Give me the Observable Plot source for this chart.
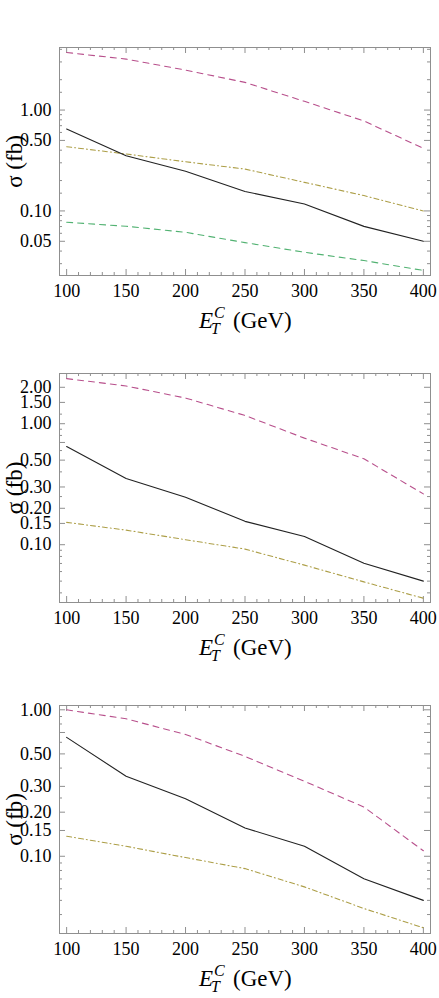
<!DOCTYPE html>
<html>
<head>
<meta charset="utf-8">
<script src="https://cdn.jsdelivr.net/npm/d3@7"></script>
<script src="https://cdn.jsdelivr.net/npm/@observablehq/plot@0.6"></script>
<style>
  html, body { margin: 0; padding: 0; background: #fff; }
  #charts svg { display: block; }
  #charts svg, #charts svg text { font-family: "Liberation Serif", "Times New Roman", "DejaVu Serif", serif !important; }
</style>
</head>
<body>
<div id="charts"></div>
<script>
// ---- data ----
const energies = [100, 150, 200, 250, 300, 350, 400];
const xTicks = [100, 150, 200, 250, 300, 350, 400];

const blackSolid = [0.648, 0.352, 0.247, 0.156, 0.117, 0.0703, 0.0500];

const p1Magenta = [3.72, 3.20, 2.49, 1.88, 1.22, 0.78, 0.417];
const p1Olive   = [0.433, 0.367, 0.307, 0.260, 0.192, 0.142, 0.100];
const p1Green   = [0.0773, 0.0705, 0.0614, 0.0485, 0.0389, 0.0322, 0.0257];

const p2Magenta = [2.36, 2.05, 1.63, 1.17, 0.76, 0.513, 0.263];
const p2Olive   = [0.153, 0.132, 0.110, 0.092, 0.0678, 0.0493, 0.0361];

const p3Magenta = [1.00, 0.868, 0.679, 0.481, 0.325, 0.217, 0.109];
const p3Olive   = [0.137, 0.117, 0.098, 0.0824, 0.0618, 0.0440, 0.0325];

const p1YTicks = [0.05, 0.10, 0.50, 1.00];
const p2YTicks = [0.10, 0.15, 0.20, 0.30, 0.50, 0.70, 1.00, 1.50, 2.00];
const p3YTicks = [0.10, 0.15, 0.20, 0.30, 0.50, 0.70, 1.00];

const p1YMinor = [0.03, 0.04, 0.06, 0.07, 0.08, 0.09, 0.15, 0.2, 0.3, 0.4, 0.6, 0.7, 0.8, 0.9, 1.5, 2, 3, 4];
const p23YMinor = [0.04, 0.05, 0.06, 0.07, 0.08, 0.09, 0.25, 0.4, 0.6, 0.8, 0.9, 1.2];

const xMinor = d3.range(100, 401, 10).filter(v => v % 50 !== 0);

const colors = {black: "#222222", magenta: "#b8508c", olive: "#ad9f48", green: "#52b272"};
const SERIF = "'Liberation Serif', 'Times New Roman', 'DejaVu Serif', serif";

function toRows(vals) { return energies.map((e, i) => ({x: e, y: vals[i]})); }

const panels = [
  {height: 338, mt: 47, mb: 63, yDomain: [0.0229, 4.17], yTicks: p1YTicks, yMinor: p1YMinor,
   series: [
     {vals: p1Magenta, color: colors.magenta, dash: "6,5"},
     {vals: p1Olive, color: colors.olive, dash: "5,3,1,3"},
     {vals: p1Green, color: colors.green, dash: "6,5"},
     {vals: blackSolid, color: colors.black, dash: null}
   ]},
  {height: 330, mt: 35, mb: 66, yDomain: [0.0333, 2.6], yTicks: p2YTicks, yMinor: p23YMinor,
   series: [
     {vals: p2Magenta, color: colors.magenta, dash: "6,5"},
     {vals: p2Olive, color: colors.olive, dash: "5,3,1,3"},
     {vals: blackSolid, color: colors.black, dash: null}
   ]},
  {height: 330, mt: 37, mb: 65, yDomain: [0.0297, 1.07], yTicks: p3YTicks, yMinor: p23YMinor,
   series: [
     {vals: p3Magenta, color: colors.magenta, dash: "6,5"},
     {vals: p3Olive, color: colors.olive, dash: "5,3,1,3"},
     {vals: blackSolid, color: colors.black, dash: null}
   ]}
];

const W = 439, ML = 59, MR = 9;
const frameColor = "#8f8f8f";
const container = document.getElementById("charts");

for (const p of panels) {
  const innerH = p.height - p.mt - p.mb;
  const innerW = W - ML - MR;
  const [ylo, yhi] = p.yDomain;
  const yMinor = p.yMinor.filter(v => v > ylo && v < yhi && !p.yTicks.includes(v));
  const yMajor = p.yTicks.filter(v => v > ylo && v < yhi);
  const majorLen = 6, minorLen = 3;

  const marks = [
    Plot.axisX({ticks: xTicks, tickSize: 0, tickPadding: 9, tickFormat: d => String(d),
      fontSize: 18, fill: "#000", label: null}),
    Plot.axisY({ticks: p.yTicks, tickSize: 0, tickPadding: 8, tickFormat: d3.format(".2f"),
      fontSize: 18, fill: "#000", label: null}),
    Plot.ruleX(xTicks, {x: d => d, insetTop: innerH - majorLen, stroke: frameColor}),
    Plot.ruleX(xTicks, {x: d => d, insetBottom: innerH - majorLen, stroke: frameColor}),
    Plot.ruleX(xMinor, {x: d => d, insetTop: innerH - minorLen, stroke: frameColor}),
    Plot.ruleX(xMinor, {x: d => d, insetBottom: innerH - minorLen, stroke: frameColor}),
    Plot.ruleY(yMajor, {y: d => d, insetRight: innerW - majorLen, stroke: frameColor}),
    Plot.ruleY(yMajor, {y: d => d, insetLeft: innerW - majorLen, stroke: frameColor}),
    Plot.ruleY(yMinor, {y: d => d, insetRight: innerW - minorLen, stroke: frameColor}),
    Plot.ruleY(yMinor, {y: d => d, insetLeft: innerW - minorLen, stroke: frameColor}),
    Plot.frame({stroke: frameColor, strokeWidth: 1}),
    ...p.series.map(s => Plot.line(toRows(s.vals), {
      x: "x", y: "y", stroke: s.color, strokeWidth: 1.1,
      strokeDasharray: s.dash ?? undefined
    })),
    Plot.text(["σ (fb)"], {frameAnchor: "left", textAnchor: "middle", lineAnchor: "middle",
      rotate: -90, dx: -45, fontSize: 23, fontFamily: SERIF, fill: "#000"})
  ];

  const svg = Plot.plot({
    width: W,
    height: p.height,
    marginLeft: ML,
    marginRight: MR,
    marginTop: p.mt,
    marginBottom: p.mb,
    style: {fontFamily: SERIF, fontSize: "18px", color: "#000", background: "#fff"},
    x: {domain: [94, 406]},
    y: {type: "log", domain: p.yDomain},
    marks
  });

  // x-axis title E_T^C (GeV), built from real text
  const fb = p.height - p.mb;
  const y0 = fb + 53;
  const g = d3.select(svg).append("g")
    .attr("font-family", SERIF)
    .attr("text-anchor", "start")
    .attr("fill", "#000");
  g.append("text").attr("x", 199).attr("y", y0).attr("font-size", 23)
    .attr("font-style", "italic").text("E");
  g.append("text").attr("x", 214).attr("y", y0 - 10).attr("font-size", 16)
    .attr("font-style", "italic").text("C");
  g.append("text").attr("x", 211).attr("y", y0 + 6).attr("font-size", 16)
    .attr("font-style", "italic").text("T");
  g.append("text").attr("x", 233).attr("y", y0).attr("font-size", 23).text("(GeV)");

  container.appendChild(svg);
}
</script>
</body>
</html>
